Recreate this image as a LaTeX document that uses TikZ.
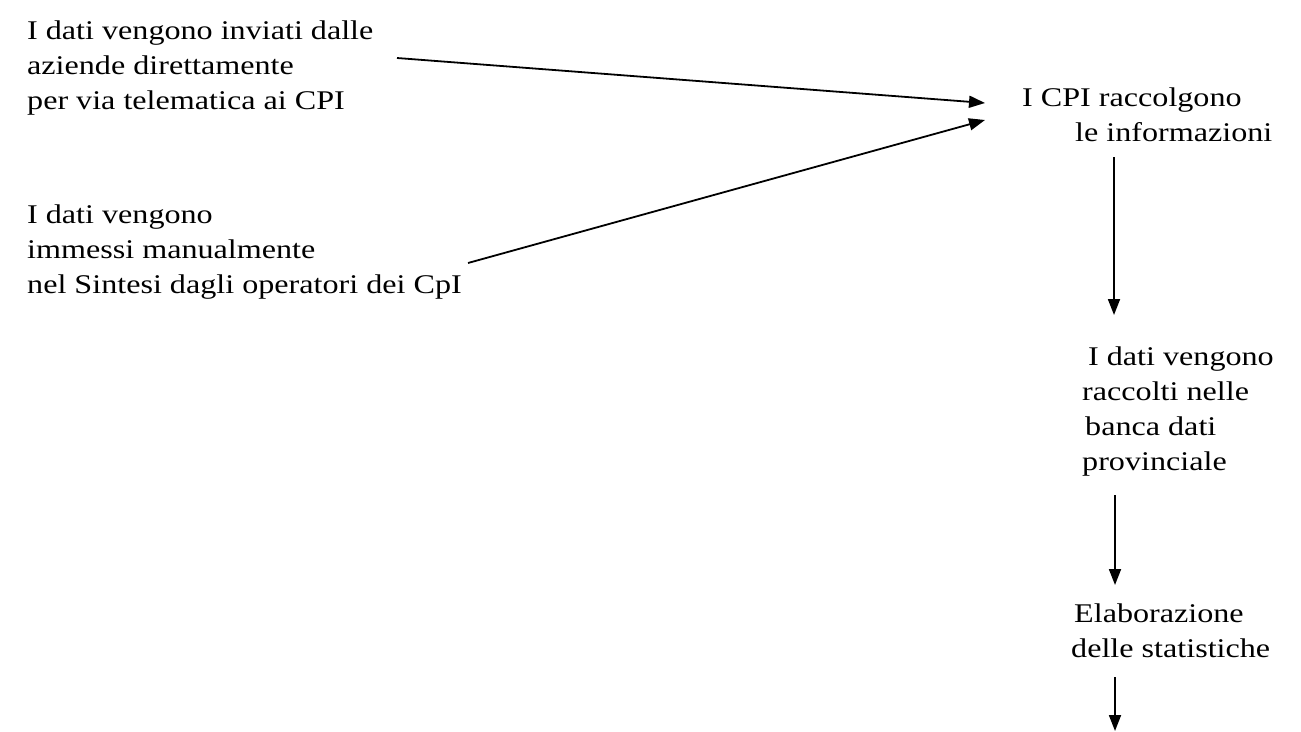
\documentclass[tikz,border=0pt]{standalone}
\usepackage{fontspec}
\setmainfont{Liberation Serif}[FakeStretch=1.19]
\usetikzlibrary{arrows.meta}
\begin{document}
\begin{tikzpicture}[x=1pt,y=-1pt,
  txt/.style={anchor=north west,inner sep=0pt,align=left,font=\fontsize{27}{35}\selectfont},
  arr/.style={line width=1.8pt,-{Triangle[length=16pt,width=12pt]}}]
\useasboundingbox (0,0) rectangle (1301,731);
\node[txt] (t1) at (27,20.5) {I dati vengono inviati dalle\\aziende direttamente\\per via telematica ai CPI};
\node[txt] (t2) at (27,204.5) {I dati vengono\\immessi manualmente\\nel Sintesi dagli operatori dei CpI};
\node[txt] (cpi) at (1022,87.5) {I CPI raccolgono\\\hspace*{53pt}le informazioni};
\node[txt] (banca) at (1082,346.5) {\hspace*{6pt}I dati vengono\\raccolti nelle\\\hspace*{3pt}banca dati\\provinciale};
\node[txt] (elab) at (1071,603.5) {\hspace*{3pt}Elaborazione\\delle statistiche};
\coordinate (a1s) at (397,58);
\coordinate (a1e) at (985,103);
\coordinate (a2s) at (468,263);
\coordinate (a2e) at (985,120);
\coordinate (c1) at (1114,157);
\coordinate (c2) at (1114,315);
\coordinate (d1) at (1115,495);
\coordinate (d2) at (1115,585);
\coordinate (e1) at (1115,677);
\coordinate (e2) at (1115,731);
\draw[arr] (a1s) -- (a1e);
\draw[arr] (a2s) -- (a2e);
\draw[arr] (c1) -- (c2);
\draw[arr] (d1) -- (d2);
\draw[arr] (e1) -- (e2);
\end{tikzpicture}
\end{document}
